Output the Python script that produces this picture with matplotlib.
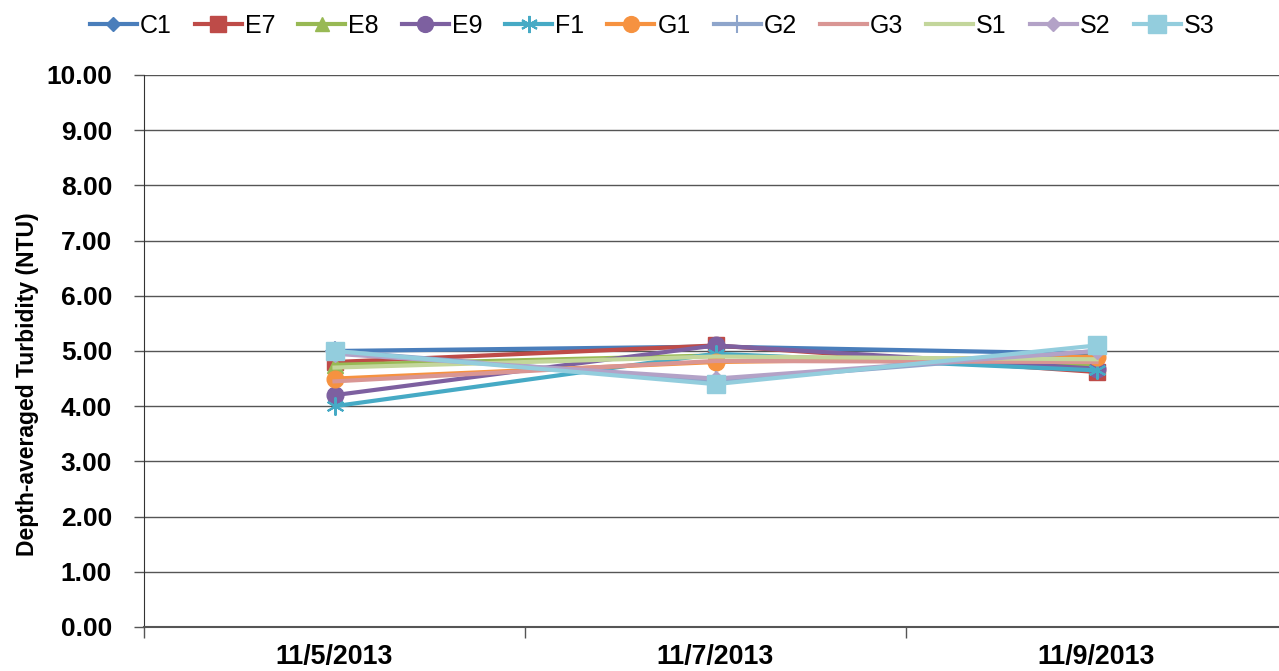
import matplotlib
matplotlib.use("Agg")
import matplotlib.pyplot as plt
import numpy as np

dates = ["11/5/2013", "11/7/2013", "11/9/2013"]
series_names = ["C1", "E7", "E8", "E9", "F1", "G1", "G2", "G3", "S1", "S2", "S3"]
C1 = [5.00, 5.08, 4.95]
E7 = [4.80, 5.10, 4.62]
E8 = [4.75, 4.92, 4.75]
E9 = [4.20, 5.10, 4.68]
F1 = [4.00, 4.95, 4.65]
G1 = [4.50, 4.80, 4.90]
G2 = [5.00, 4.45, 5.00]
G3 = [4.45, 4.82, 4.80]
S1 = [4.70, 4.90, 4.85]
S2 = [4.95, 4.50, 5.00]
S3 = [5.00, 4.40, 5.10]
values = [C1, E7, E8, E9, F1, G1, G2, G3, S1, S2, S3]

colors = ["#4A7EBB", "#BE4B48", "#98B954", "#7D60A0", "#46AAC5", "#F69240",
          "#8EA5CB", "#D99694", "#C3D69B", "#B3A2C7", "#93CDDD"]
markers = ["D", "s", "^", "o", (6, 2, 0), "o", "+", None, None, "D", "s"]
msizes = [8, 12, 11, 12, 13, 12, 14, 0, 0, 8, 13]

plt.rcParams['font.family'] = ['Liberation Sans', 'DejaVu Sans']
fig = plt.figure(figsize=(12.79, 6.71), dpi=100)
ax = fig.add_axes([144/1279, 1-627/671, 3*381/1279, (627-75)/671])

x = np.arange(len(dates))
for name, v, c, m, ms in zip(series_names, values, colors, markers, msizes):
    ax.plot(x, v, color=c, lw=3, marker=m, markersize=ms, label=name,
            markeredgecolor=c, markerfacecolor=c, markeredgewidth=1.5 if m in ("+", (6, 2, 0)) else 1)

ax.set_xlim(-0.5, 2.5)
ax.set_ylim(0, 10)
ax.set_yticks(np.arange(0, 10.01, 1))
ax.set_yticklabels([f"{t:.2f}" for t in np.arange(0, 10.01, 1)], fontsize=19, fontweight='bold')
ax.set_xticks(x)
ax.set_xticklabels(dates, fontsize=19.3, fontweight='bold')
ax.tick_params(axis='x', which='major', length=0, pad=12)
ax.set_xticks([-0.5, 0.5, 1.5, 2.5], minor=True)
ax.tick_params(axis='x', which='minor', length=8, width=1, color='#555555', direction='out')
ax.tick_params(axis='y', length=7, width=1, color='#555555', direction='out', pad=16)
ax.grid(axis='y', color='#555555', lw=1)
ax.set_axisbelow(True)
for s in ['top', 'right']:
    ax.spines[s].set_visible(False)
ax.spines['left'].set_color('#333333')
ax.spines['bottom'].set_color('#555555')
ax.spines['bottom'].set_linewidth(1.5)
ax.set_ylabel("Depth-averaged Turbidity (NTU)", fontsize=16.5, fontweight='bold')
ax.yaxis.set_label_coords(-0.092, 0.44)

leg = fig.legend(loc='upper left', bbox_to_anchor=(76/1279, 1.0), ncol=11, frameon=False,
                 fontsize=18, handlelength=1.88, columnspacing=0.92, handletextpad=0.12,
                 borderaxespad=0.15, markerscale=0.95)

fig.savefig("out.png", dpi=100)
